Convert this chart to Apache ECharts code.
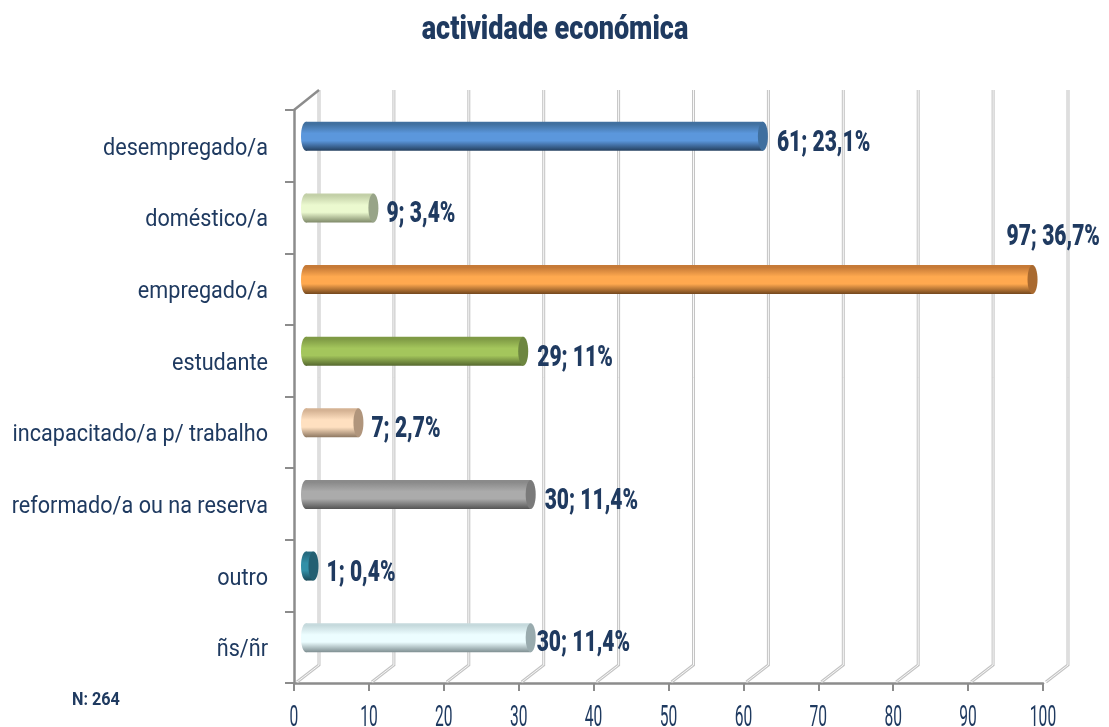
<!DOCTYPE html>
<html>
<head>
<meta charset="utf-8">
<style>
  html, body { margin: 0; padding: 0; background: #fff; }
  #chartContainer { width: 1109px; height: 727px; }
</style>
<script src="https://cdn.jsdelivr.net/npm/echarts@6/dist/echarts.min.js"></script>
</head>
<body>
<div id="chartContainer"></div>
<script>
const categories = ['desempregado/a', 'doméstico/a', 'empregado/a', 'estudante', 'incapacitado/a p/ trabalho', 'reformado/a ou na reserva', 'outro', 'ñs/ñr'];
const counts = [61, 9, 97, 29, 7, 30, 1, 30];
const percents = ['23,1%', '3,4%', '36,7%', '11%', '2,7%', '11,4%', '0,4%', '11,4%'];
const xTicks = [0, 10, 20, 30, 40, 50, 60, 70, 80, 90, 100];

// edge, highlight, shadow, end cap
const barColors = [
  ['#41709f', '#5b97dc', '#243f5e', '#3f6f9f'],
  ['#c3d0a8', '#ebf9cf', '#7f8a69', '#98a488'],
  ['#c67a37', '#ffa94f', '#72461d', '#a96a30'],
  ['#7f9a45', '#a4c65c', '#56692f', '#6d8640'],
  ['#d5b394', '#ffe0c0', '#8d7761', '#b0957c'],
  ['#8a8a8a', '#ababab', '#555555', '#7a7a7a'],
  ['#276b80', '#3390a8', '#1b4a59', '#245f72'],
  ['#c6dadd', '#ecfdff', '#7f8f92', '#99abae']
];

// label placement relative to bar end, the big bar has its label above
const labelShift = [[9, 7], [8, 7], [-31, -42], [9, 7], [8, 7], [9, 7], [8, 7], [1, 6]];

const depthX = 25;
const depthY = 18;
const barShiftX = 12;
const barShiftY = -9.5;
const barHeight = 29;
const capRadius = 5;
const textColor = '#1f3a60';
const axisColor = '#8c8c8c';

const myChart = echarts.init(document.getElementById('chartContainer'));

// back wall and floor lines, one per x tick, plus the tick label
function renderWall(params, api) {
  const v = api.value(0);
  const sys = params.coordSys;
  const x = api.coord([v, 0])[0];
  const bottom = sys.y + sys.height;
  const top = sys.y - 20;
  const pts = [[x + 3, bottom - 1], [x + depthX, bottom - depthY], [x + depthX, top]];
  const children = [
    { type: 'polyline', shape: { points: pts }, style: { fill: 'none', stroke: '#c4c4c4', lineWidth: 3 } },
    { type: 'polyline', shape: { points: pts }, style: { fill: 'none', stroke: '#f8f8f8', lineWidth: 1 } },
    {
      type: 'text',
      x: x,
      y: bottom + 35,
      scaleX: 0.52,
      style: {
        text: String(v),
        fontFamily: 'Roboto',
        fontSize: 30,
        fill: textColor,
        align: 'center',
        verticalAlign: 'middle'
      }
    }
  ];
  if (v === 0) {
    children.push({
      type: 'line',
      shape: { x1: x, y1: sys.y, x2: x + depthX, y2: top },
      style: { stroke: axisColor, lineWidth: 2.5 }
    });
  }
  return { type: 'group', children: children };
}

// category names, narrowed the way the original face is
function renderCategory(params, api) {
  const i = api.value(0);
  const p = api.coord([0, i]);
  return {
    type: 'text',
    x: p[0] - 26,
    y: p[1] + 3,
    scaleX: 0.9,
    style: {
      text: categories[i],
      fontFamily: 'Roboto',
      fontSize: 24,
      fill: textColor,
      align: 'right',
      verticalAlign: 'middle'
    }
  };
}

function renderBar(params, api) {
  const i = api.value(1);
  const c = barColors[i];
  const a = api.coord([0, i]);
  const b = api.coord([api.value(0), i]);
  const x0 = a[0] + barShiftX;
  const x1 = b[0] + barShiftX;
  const cy = a[1] + barShiftY;
  const ry = barHeight / 2;
  const fill = new echarts.graphic.LinearGradient(0, 0, 0, 1, [
    { offset: 0, color: c[0] },
    { offset: 0.08, color: c[0] },
    { offset: 0.4, color: c[1] },
    { offset: 0.65, color: c[1] },
    { offset: 1, color: c[2] }
  ]);
  return {
    type: 'group',
    children: [
      { type: 'ellipse', shape: { cx: x0, cy: cy, rx: capRadius, ry: ry }, style: { fill: fill } },
      { type: 'rect', shape: { x: x0, y: cy - ry, width: x1 - x0, height: barHeight }, style: { fill: fill } },
      { type: 'ellipse', shape: { cx: x1, cy: cy, rx: capRadius, ry: ry }, style: { fill: c[3] } },
      {
        type: 'text',
        x: x1 + capRadius + labelShift[i][0],
        y: cy + labelShift[i][1],
        scaleX: 0.7,
        style: {
          text: counts[i] + '; ' + percents[i],
          fontFamily: 'Roboto',
          fontWeight: 900,
          fontSize: 30,
          fill: textColor,
          align: 'left',
          verticalAlign: 'middle'
        }
      }
    ]
  };
}

myChart.setOption({
  animation: false,
  backgroundColor: '#fff',
  graphic: [
    {
      type: 'text',
      x: 555,
      y: 31,
      scaleX: 0.82,
      style: {
        text: 'actividade económica',
        fontFamily: 'Roboto',
        fontWeight: 900,
        fontSize: 33,
        fill: textColor,
        align: 'center',
        verticalAlign: 'middle'
      }
    },
    {
      type: 'text',
      x: 72,
      y: 700,
      scaleX: 0.9,
      style: {
        text: 'N: 264',
        fontFamily: 'Roboto',
        fontWeight: 'bold',
        fontSize: 18,
        fill: textColor,
        align: 'left',
        verticalAlign: 'middle'
      }
    }
  ],
  grid: { left: 294, right: 66, top: 110, bottom: 44 },
  xAxis: {
    type: 'value',
    min: 0,
    max: 100,
    interval: 10,
    position: 'bottom',
    splitLine: { show: false },
    axisLine: { show: true, onZero: false, lineStyle: { color: axisColor, width: 2.5 } },
    axisTick: { show: true, length: 8, lineStyle: { color: axisColor, width: 2 } },
    axisLabel: { show: false }
  },
  yAxis: {
    type: 'category',
    inverse: true,
    data: categories,
    axisLine: { show: true, onZero: false, lineStyle: { color: axisColor, width: 2.5 } },
    axisTick: { show: true, length: 9, lineStyle: { color: axisColor, width: 2 } },
    axisLabel: { show: false }
  },
  series: [
    {
      type: 'custom',
      name: 'walls',
      renderItem: renderWall,
      encode: { x: 0 },
      data: xTicks.map(t => [t]),
      silent: true,
      clip: false,
      z: 1
    },
    {
      type: 'custom',
      name: 'categories',
      renderItem: renderCategory,
      encode: { y: 0 },
      data: categories.map((c, i) => [i]),
      silent: true,
      clip: false,
      z: 2
    },
    {
      type: 'custom',
      name: 'actividade',
      renderItem: renderBar,
      encode: { x: 0, y: 1 },
      data: counts.map((v, i) => [v, i]),
      clip: false,
      z: 3
    }
  ]
});
</script>
</body>
</html>
